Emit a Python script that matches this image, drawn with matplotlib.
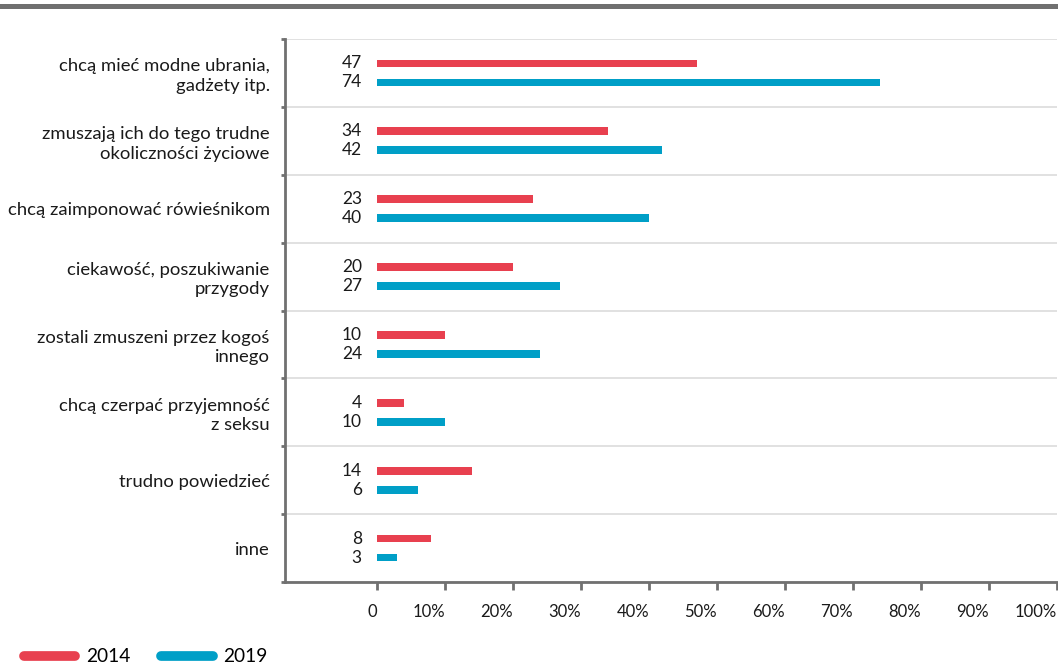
import matplotlib
matplotlib.use('Agg')
import matplotlib.pyplot as plt
import matplotlib.patches as mpatches
from matplotlib.lines import Line2D
import numpy as np

plt.rcParams['font.family'] = ['Lato', 'DejaVu Sans']

categories = [
    'chcą mieć modne ubrania,\ngadżety itp.',
    'zmuszają ich do tego trudne\nokoliczności życiowe',
    'chcą zaimponować rówieśnikom',
    'ciekawość, poszukiwanie\nprzygody',
    'zostali zmuszeni przez kogoś\ninnego',
    'chcą czerpać przyjemność\nz seksu',
    'trudno powiedzieć',
    'inne',
]
years = ['2014', '2019']
v2014 = [47, 34, 23, 20, 10, 4, 14, 8]
v2019 = [74, 42, 40, 27, 24, 10, 6, 3]
xticks = [0, 10, 20, 30, 40, 50, 60, 70, 80, 90, 100]
xticklabels = ['0'] + [f'{t}%' for t in xticks[1:]]

RED = '#E8404F'
BLUE = '#009FC7'
GRAY = '#707070'
LIGHT = '#DCDCDC'
TXT = '#1A1A1A'

fig = plt.figure(figsize=(10.58, 6.68), dpi=100)
fig.patch.set_facecolor('white')

# top gray strip
fig.patches.append(mpatches.Rectangle((0, 1 - 9 / 668), 1, 5 / 668, transform=fig.transFigure,
                                      facecolor=GRAY, edgecolor='none'))

ax = fig.add_axes([285 / 1058, 86 / 668, 772 / 1058, 543 / 668])
y = np.arange(len(categories))
off = 0.14
h = 0.115
ax.barh(y - off, v2014, height=h, color=RED, zorder=3)
ax.barh(y + off, v2019, height=h, color=BLUE, zorder=3)

for i in range(len(categories)):
    ax.text(-2.2, y[i] - off, str(v2014[i]), ha='right', va='center', fontsize=12.5, color=TXT)
    ax.text(-2.2, y[i] + off, str(v2019[i]), ha='right', va='center', fontsize=12.5, color=TXT)

ax.set_xlim(-13.5, 100)
ax.set_ylim(len(categories) - 0.5, -0.5)

# separators between categories
for b in np.arange(-0.5, len(categories), 1.0):
    ax.axhline(b, color=LIGHT, lw=1.2, zorder=1)

ax.set_yticks(np.arange(-0.5, len(categories), 1.0))
ax.set_yticklabels([])
ax.set_yticks(y, minor=True)
ax.set_yticklabels(categories, minor=True, fontsize=13.3, color=TXT, ha='right',
                   linespacing=1.25)
ax.tick_params(axis='y', which='minor', length=0, pad=11)
ax.tick_params(axis='y', which='major', length=3, width=2, color=GRAY)

ax.set_xticks(xticks)
ax.set_xticklabels(xticklabels, fontsize=12, color=TXT, ha='right')
ax.tick_params(axis='x', length=6, width=2, color=GRAY, pad=10)

for s in ['top', 'right']:
    ax.spines[s].set_visible(False)
for s in ['left', 'bottom']:
    ax.spines[s].set_color(GRAY)
    ax.spines[s].set_linewidth(2)

handles = [Line2D([0], [0], color=RED, lw=7, solid_capstyle='round'),
           Line2D([0], [0], color=BLUE, lw=7, solid_capstyle='round')]
fig.legend(handles, years, loc='lower left', bbox_to_anchor=(0.006, -0.022), ncol=2,
           frameon=False, fontsize=13.8, handlelength=2.7, handletextpad=0.55,
           columnspacing=1.6)

fig.savefig('out.png', dpi=100, facecolor='white')
